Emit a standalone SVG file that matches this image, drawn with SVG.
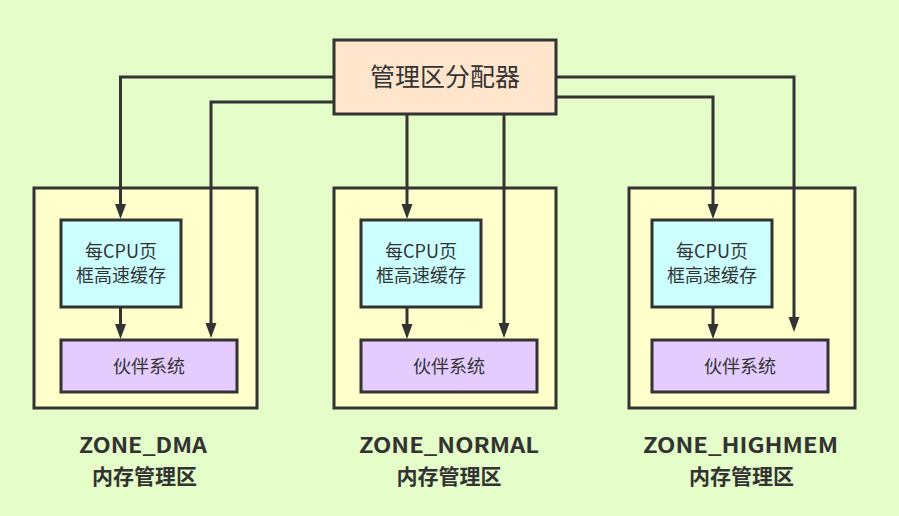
<svg xmlns="http://www.w3.org/2000/svg" width="899" height="516" viewBox="0 0 899 516">
<style>
.box{stroke:#333;stroke-width:3}
.zone{fill:#ffffcc}
.cache{fill:#ccffff}
.buddy{fill:#e5ccff}
.t{font-family:"Noto Sans CJK SC","Microsoft YaHei",sans-serif;fill:#333;text-anchor:middle}
.lab{font-family:"Noto Sans CJK SC",sans-serif;font-weight:bold;font-size:21px;fill:#333;text-anchor:middle}
.c{fill:none;stroke:#333;stroke-width:3}
</style>
<rect width="899" height="516" fill="#e4fdc9"/>
<g id="zone_dma">
<rect class="box zone" x="34" y="188" width="223" height="220"/>
<text class="lab" x="143" y="453" textLength="128" lengthAdjust="spacingAndGlyphs">ZONE_DMA</text>
<text class="lab" x="144.5" y="484">内存管理区</text>
</g>
<g id="zone_normal">
<rect class="box zone" x="334" y="188" width="222" height="220"/>
<text class="lab" x="449" y="453" textLength="180" lengthAdjust="spacingAndGlyphs">ZONE_NORMAL</text>
<text class="lab" x="449" y="484">内存管理区</text>
</g>
<g id="zone_highmem">
<rect class="box zone" x="629" y="188" width="226" height="220"/>
<text class="lab" x="740.5" y="453" textLength="195" lengthAdjust="spacingAndGlyphs">ZONE_HIGHMEM</text>
<text class="lab" x="741.5" y="484">内存管理区</text>
</g>
<g id="allocator">
<rect class="box" x="334" y="40" width="222" height="74" fill="#ffe5cc"/>
<text class="t" x="445" y="86" font-size="25">管理区分配器</text>
</g>
<g id="cache_dma">
<rect class="box cache" x="61" y="220" width="120" height="87"/>
<text class="t" x="121" y="258" font-size="18">每CPU页</text>
<text class="t" x="121" y="282" font-size="18">框高速缓存</text>
</g>
<g id="buddy_dma">
<rect class="box buddy" x="61" y="340" width="176" height="52"/>
<text class="t" x="149" y="373" font-size="18">伙伴系统</text>
</g>
<g id="cache_normal">
<rect class="box cache" x="361" y="220" width="120" height="87"/>
<text class="t" x="421" y="258" font-size="18">每CPU页</text>
<text class="t" x="421" y="282" font-size="18">框高速缓存</text>
</g>
<g id="buddy_normal">
<rect class="box buddy" x="361" y="340" width="176" height="52"/>
<text class="t" x="449" y="373" font-size="18">伙伴系统</text>
</g>
<g id="cache_highmem">
<rect class="box cache" x="652" y="220" width="120" height="87"/>
<text class="t" x="712" y="258" font-size="18">每CPU页</text>
<text class="t" x="712" y="282" font-size="18">框高速缓存</text>
</g>
<g id="buddy_highmem">
<rect class="box buddy" x="652" y="340" width="176" height="52"/>
<text class="t" x="740" y="373" font-size="18">伙伴系统</text>
</g>
<g id="connectors">
<polyline class="c" points="334,77 120.5,77 120.5,213"/>
<polyline class="c" points="334,102 211,102 211,325"/>
<polyline class="c" points="407,114 407,213"/>
<polyline class="c" points="504,114 504,325"/>
<polyline class="c" points="556,97 713,97 713,213"/>
<polyline class="c" points="556,77 794,77 794,318"/>
<polyline class="c" points="120.5,307 120.5,330"/>
<polyline class="c" points="407,307 407,330"/>
<polyline class="c" points="713,307 713,330"/>
<g fill="#333">
<path d="M115,204 h11 l-5.5,15 z"/>
<path d="M205.5,323 h11 l-5.5,15 z"/>
<path d="M401.5,204 h11 l-5.5,15 z"/>
<path d="M498.5,323 h11 l-5.5,15 z"/>
<path d="M707.5,204 h11 l-5.5,15 z"/>
<path d="M788.5,317 h11 l-5.5,15 z"/>
<path d="M115,324 h11 l-5.5,15 z"/>
<path d="M401.5,324 h11 l-5.5,15 z"/>
<path d="M707.5,324 h11 l-5.5,15 z"/>
</g>
</g>
</svg>
